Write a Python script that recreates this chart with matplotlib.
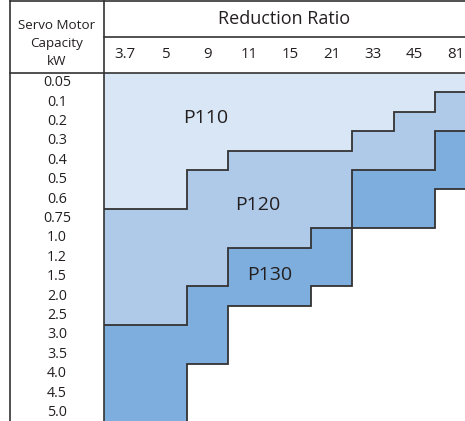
import numpy as np
import matplotlib
matplotlib.use('Agg')
import matplotlib.pyplot as plt

# Table data: which reducer frame covers each (capacity, ratio) cell.
ratios = ['3.7', '5', '9', '11', '15', '21', '33', '45', '81']
capacities = ['0.05', '0.1', '0.2', '0.3', '0.4', '0.5', '0.6', '0.75', '1.0',
              '1.2', '1.5', '2.0', '2.5', '3.0', '3.5', '4.0', '4.5', '5.0']
# Row index (exclusive) where each frame size stops, per ratio column.
p110_end = [7, 7, 5, 4, 4, 4, 3, 2, 1]
p120_end = [13, 13, 11, 9, 9, 8, 5, 5, 3]
p130_end = [18, 18, 15, 12, 12, 11, 8, 8, 6]
frames = ['P110', 'P120', 'P130']

plt.rcParams['font.family'] = ['Open Sans', 'DejaVu Sans']
text_color = '#231f20'
line_color = '#333333'
colors = ['#d9e6f5', '#afcae9', '#7eaedd']

fig = plt.figure(figsize=(4.65, 4.21), dpi=100)
ax = fig.add_axes([0, 0, 1, 1])
ax.set_axis_off()

# one x unit = one ratio column, one y unit = one capacity row
col_w, row_h = 41.4, 19.4
ax.set_xlim(-104 / col_w, (465 - 104) / col_w)
ax.set_ylim((421 - 73) / row_h, -73 / row_h)

n = len(ratios)
x = np.arange(n) + 0.5
starts = [np.zeros(n), np.array(p110_end), np.array(p120_end)]
ends = [np.array(p110_end), np.array(p120_end), np.array(p130_end)]
for s, e, c in zip(starts, ends, colors):
  ax.bar(x, e - s, bottom=s, width=1.0, color=c, linewidth=0)

edges = np.arange(n + 1)
for e in ends:
  ax.stairs(e, edges, baseline=None, color=line_color, linewidth=1.3)

# table frame
x_left = -94 / col_w
y_top = -72 / row_h
y_mid = -36 / row_h
xmax = ax.get_xlim()[1]
ymax = ax.get_ylim()[0]
ax.plot([x_left, x_left], [y_top, ymax], color=line_color, linewidth=1.2)
ax.plot([0, 0], [y_top, ymax], color=line_color, linewidth=1.2)
ax.plot([x_left, xmax], [y_top, y_top], color=line_color, linewidth=1.2)
ax.plot([0, xmax], [y_mid, y_mid], color=line_color, linewidth=1.2)
ax.plot([x_left, xmax], [0, 0], color=line_color, linewidth=1.2)

# labels
ax.text(x_left / 2, y_top / 2 + 0.33, 'Servo Motor\nCapacity\nkW', ha='center', va='center',
        fontsize=9.6, color=text_color, linespacing=1.5)
ax.text(xmax / 2, (y_top + y_mid) / 2, 'Reduction Ratio', ha='center', va='center',
        fontsize=13, color=text_color)
for i, r in enumerate(ratios):
  ax.text(i + 0.5, y_mid / 2, r, ha='center', va='center', fontsize=10.8, color=text_color)
for j, c in enumerate(capacities):
  ax.text(x_left / 2, j + 0.5, c, ha='center', va='center', fontsize=10.3, color=text_color)

label_pos = [(2.46, 2.32), (3.72, 6.8), (4.01, 10.41)]
for name, (lx, ly) in zip(frames, label_pos):
  ax.text(lx, ly, name, ha='center', va='center', fontsize=14, color=text_color)

fig.savefig('out.png', dpi=100)
